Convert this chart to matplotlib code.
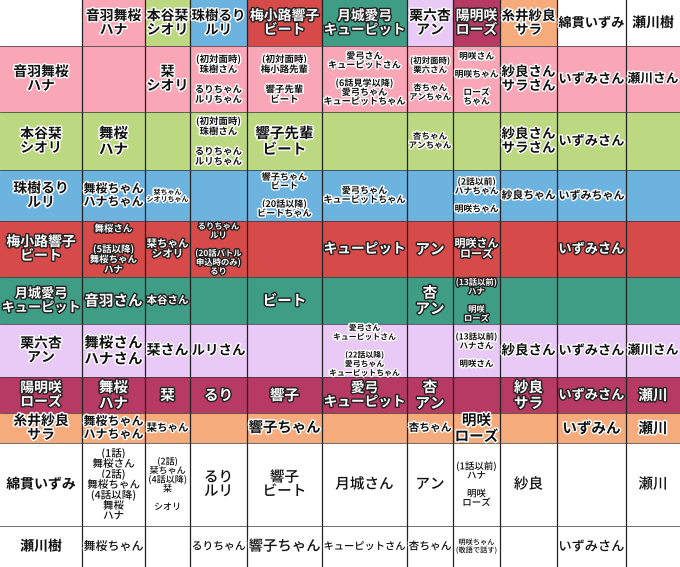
import matplotlib
matplotlib.use("Agg")
import matplotlib.pyplot as plt
import matplotlib.patheffects as pe
from matplotlib.patches import Rectangle

plt.rcParams['font.family'] = ['Noto Sans CJK JP', 'DejaVu Sans']

characters = ['音羽舞桜\nハナ', '本谷栞\nシオリ', '珠樹るり\nルリ', '梅小路響子\nビート', '月城愛弓\nキューピット',
              '栗六杏\nアン', '陽明咲\nローズ', '糸井紗良\nサラ', '綿貫いずみ', '瀬川樹']

rows = [
    ['', '栞\nシオリ', '(初対面時)\n珠樹さん\n\nるりちゃん\nルリちゃん', '(初対面時)\n梅小路先輩\n\n響子先輩\nビート',
     '愛弓さん\nキューピットさん\n\n(6話見学以降)\n愛弓ちゃん\nキューピットちゃん', '(初対面時)\n栗六さん\n\n杏ちゃん\nアンちゃん',
     '明咲さん\n\n明咲ちゃん\n\nローズ\nちゃん', '紗良さん\nサラさん', 'いずみさん', '瀬川さん'],
    ['舞桜\nハナ', '', '(初対面時)\n珠樹さん\n\nるりちゃん\nルリちゃん', '響子先輩\nビート', '', '杏ちゃん\nアンちゃん', '',
     '紗良さん\nサラさん', 'いずみさん', ''],
    ['舞桜ちゃん\nハナちゃん', '栞ちゃん\nシオリちゃん', '', '響子ちゃん\nビート\n\n(20話以降)\nビートちゃん',
     '愛弓ちゃん\nキューピットちゃん', '', '(2話以前)\nハナちゃん\n\n明咲ちゃん', '紗良ちゃん', 'いずみちゃん', ''],
    ['舞桜さん\n\n(5話以降)\n舞桜ちゃん\nハナ', '栞ちゃん\nシオリ', 'るりちゃん\nルリ\n\n(20話バトル\n申込時のみ)\nるり', '',
     'キューピット', 'アン', '明咲さん\nローズ', '', 'いずみさん', ''],
    ['音羽さん', '本谷さん', '', 'ビート', '', '杏\nアン', '(13話以前)\nハナ\n\n明咲\nローズ', '', '', ''],
    ['舞桜さん\nハナさん', '栞さん', 'ルリさん', '', '愛弓さん\nキューピットさん\n\n(22話以降)\n愛弓ちゃん\nキューピットちゃん', '',
     '(13話以前)\nハナさん\n\n明咲さん', '紗良さん', 'いずみさん', '瀬川さん'],
    ['舞桜\nハナ', '栞', 'るり', '響子', '愛弓\nキューピット', '杏\nアン', '', '紗良\nサラ', 'いずみさん', '瀬川'],
    ['舞桜ちゃん\nハナちゃん', '栞ちゃん', '', '響子ちゃん', '', '杏ちゃん', '明咲\nローズ', '', 'いずみん', '瀬川'],
    ['(1話)\n舞桜さん\n(2話)\n舞桜ちゃん\n(4話以降)\n舞桜\nハナ', '(2話)\n栞ちゃん\n(4話以降)\n栞\n\nシオリ', 'るり\nルリ',
     '響子\nビート', '月城さん', 'アン', '(1話以前)\nハナ\n\n明咲\nローズ', '紗良', '', '瀬川'],
    ['舞桜ちゃん', '', 'るりちゃん', '響子ちゃん', 'キューピットさん', '杏ちゃん', '明咲ちゃん\n(敬語で話す)', '', 'いずみさん', ''],
]

# style
colors = ['#f9a7b6', '#bcd982', '#6db3df', '#d64a49', '#3f9c85', '#e9c9f6', '#b63a64', '#f5ab7b', '#ffffff', '#ffffff']
dark = [False, False, False, True, True, False, True, False, False, False]
xb = [0, 82, 145, 190, 247, 322, 407, 453, 500, 557, 626, 680]
yb = [0, 46, 112, 170, 221, 277, 324, 377, 413, 443, 526, 567]

W, H = 680, 567
fig = plt.figure(figsize=(6.8, 5.67), dpi=100)
ax = fig.add_axes([0, 0, 1, 1])
ax.set_xlim(0, W)
ax.set_ylim(H, 0)
ax.axis('off')


def textlen(s):
    return max((sum(0.55 if ord(c) < 128 else 1.0 for c in ln) for ln in s.split('\n')), default=1)


def put(x0, x1, y0, y1, s, isdark, cap=10.5, white=False):
    if not s:
        return
    w = x1 - x0
    n = textlen(s)
    size = min(cap, 0.72 * (w - 3) / max(n, 1))
    lines = s.split('\n')
    if len(lines) > 2:
        size = min(size, 7.6 if white else 6.8)
        size = min(size, 0.72 * (y1 - y0 - 2) / (len(lines) * 1.08))
    fc, ec = ('white', '#222222') if isdark else ('#111111', 'white')
    ax.text((x0 + x1) / 2, (y0 + y1) / 2, s, ha='center', va='center', fontsize=size,
            fontweight='medium' if white else 'bold', color=fc, linespacing=1.0,
            path_effects=[pe.withStroke(linewidth=2, foreground=ec)])


# header row
for j, name in enumerate(characters):
    x0, x1 = xb[j + 1], xb[j + 2]
    ax.add_patch(Rectangle((x0, 0), x1 - x0, yb[1], color=colors[j], lw=0))
    put(x0, x1, 0, yb[1], name, dark[j], cap=10)
# body
for i, row in enumerate(rows):
    y0, y1 = yb[i + 1], yb[i + 2]
    ax.add_patch(Rectangle((0, y0), W, y1 - y0, color=colors[i], lw=0))
    put(0, xb[1], y0, y1, characters[i], dark[i], cap=10)
    for j, s in enumerate(row):
        put(xb[j + 1], xb[j + 2], y0, y1, s, dark[i], white=(i >= 8))

for x in xb[1:-1]:
    ax.plot([x, x], [0, H], color='#222222', lw=0.9)
for y in yb[1:-1]:
    ax.plot([0, W], [y, y], color='#333333', lw=0.5)

fig.savefig('out.png', dpi=100)
